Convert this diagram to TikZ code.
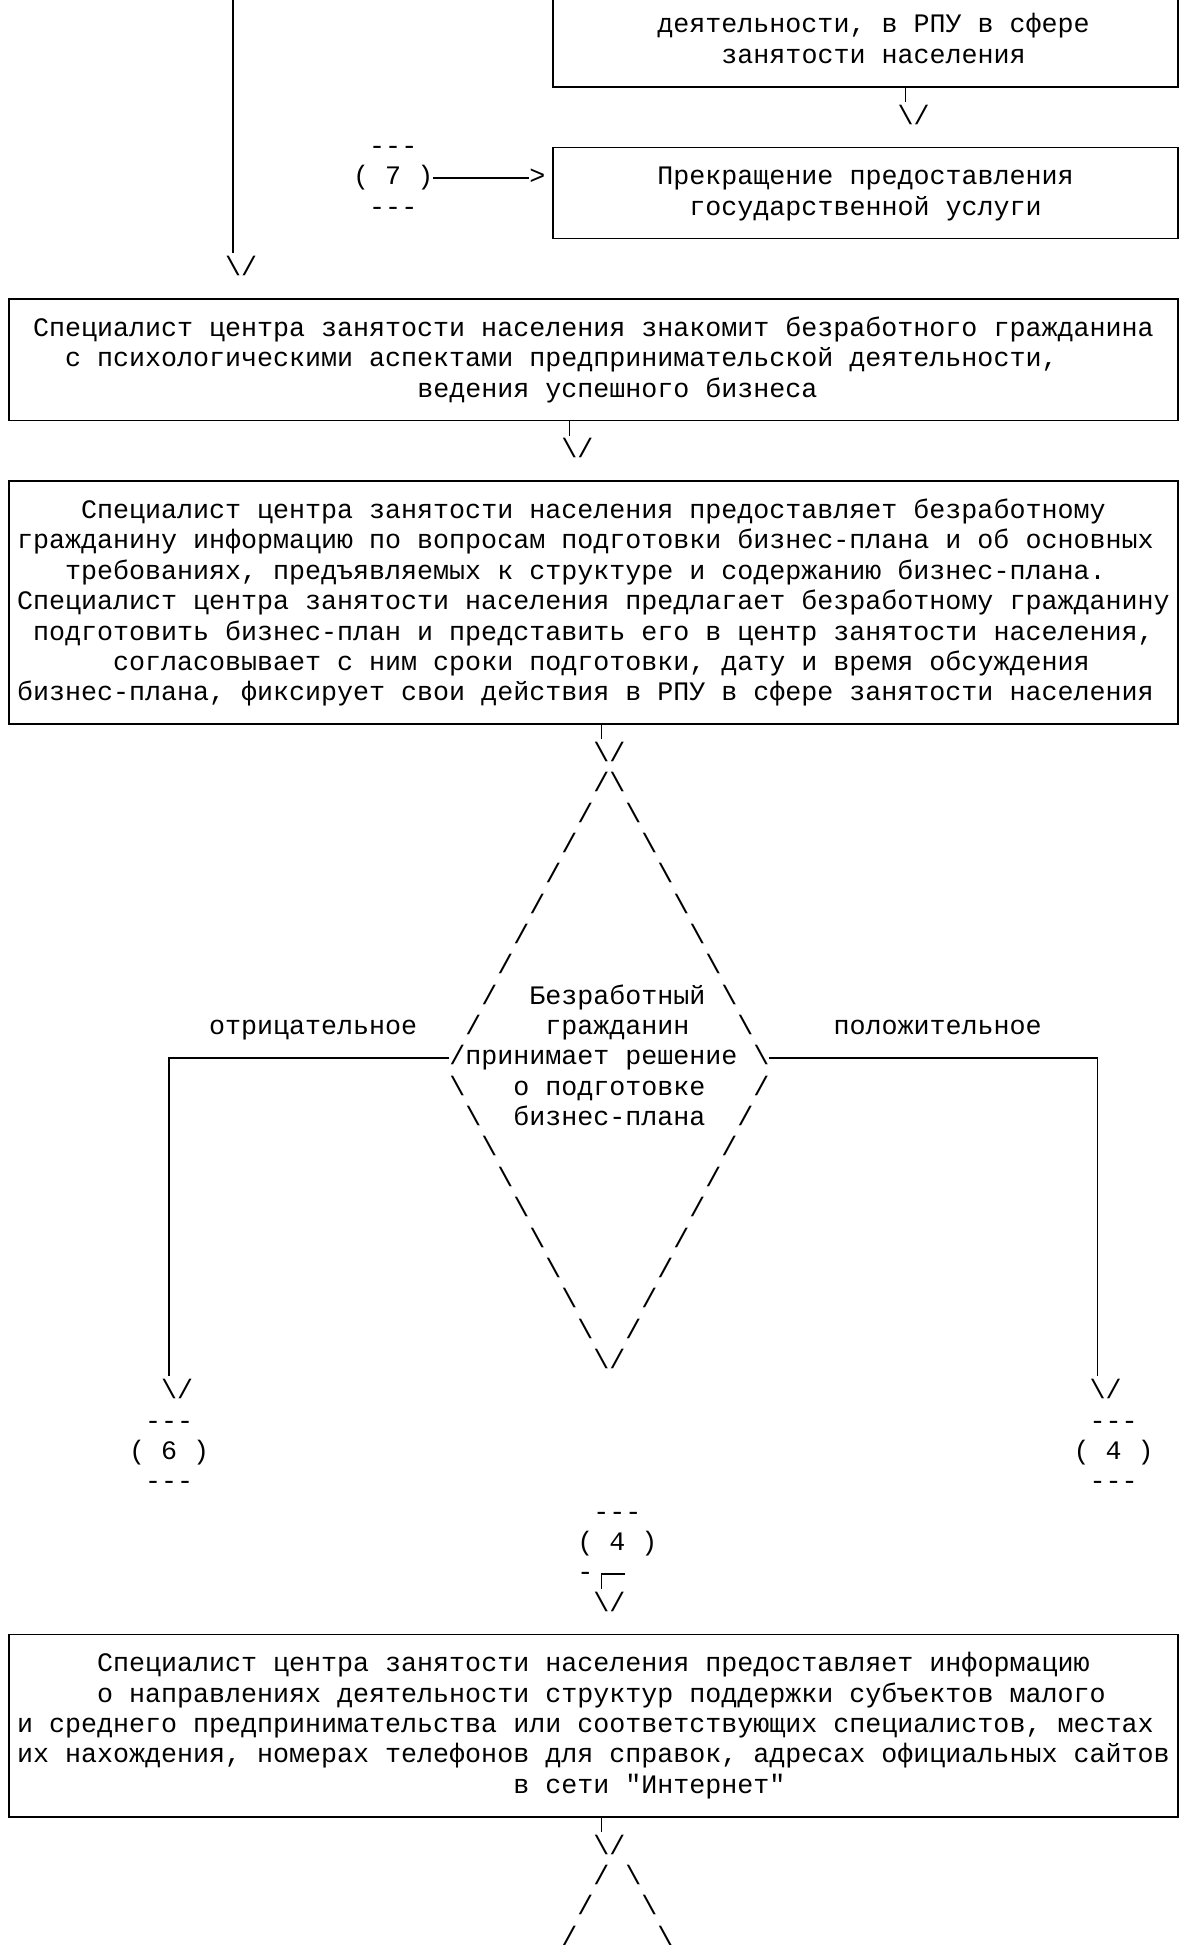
\documentclass[tikz,border=0pt]{standalone}
\usepackage{fontspec}
\setmonofont{Liberation Mono}
\usetikzlibrary{fit}
\begin{document}
\begin{tikzpicture}[x=1pt,y=-1pt,
  declare function={cx(\c)=9+16.01*\c; lx(\c)=1+16.01*\c; ry(\r)=26+30.35*\r; by(\r)=33+30.35*\r;},
  txt/.style={anchor=base west, inner sep=0pt, outer sep=0pt, font=\ttfamily\fontsize{26.68}{30}\selectfont},
  ln/.style={line width=1.6pt},
  boxn/.style={draw, line width=1.7pt, inner sep=0pt, outer sep=0pt}]
\useasboundingbox (0,0) rectangle (1179,1945);
\clip (0,0) rectangle (1179,1945);

% ---------- box corners ----------
\coordinate (A1) at ({cx(34)},-40);      \coordinate (A2) at ({cx(73)},{ry(2)});
\coordinate (B1) at ({cx(34)},{ry(4)});  \coordinate (B2) at ({cx(73)},{ry(7)});
\coordinate (C1) at ({cx(0)},{ry(9)});   \coordinate (C2) at ({cx(73)},{ry(13)});
\coordinate (D1) at ({cx(0)},{ry(15)});  \coordinate (D2) at ({cx(73)},{ry(23)});
\coordinate (E1) at ({cx(0)},{ry(53)});  \coordinate (E2) at ({cx(73)},{ry(59)});
\node[boxn, fit=(A1)(A2)] (boxA) {};
\node[boxn, fit=(B1)(B2)] (boxB) {};
\node[boxn, fit=(C1)(C2)] (boxC) {};
\node[boxn, fit=(D1)(D2)] (boxD) {};
\node[boxn, fit=(E1)(E2)] (boxE) {};

% ---------- top part ----------
\node[txt] (ta1) at ({lx(41)},{by(0)}) {деятельности, в РПУ в сфере};
\node[txt] (ta2) at ({lx(45)},{by(1)}) {занятости населения};
\coordinate (sA) at ({cx(56)},{ry(2)}); \coordinate (eA) at ({cx(56)},{ry(2)+15});
\draw[ln] (sA) -- (eA);
\node[txt] (vA) at ({lx(56)},{by(3)}) {\textbackslash/};

\node[txt] (c7t) at ({lx(23)},{by(4)}) {-{}-{}-};
\node[txt] (c7) at ({lx(22)},{by(5)}) {( 7 )};
\node[txt] (c7b) at ({lx(23)},{by(6)}) {-{}-{}-};
\coordinate (a7s) at ({lx(27)},{ry(5)}); \coordinate (a7e) at ({lx(33)},{ry(5)});
\draw[ln] (a7s) -- (a7e);
\node[txt] (gt7) at ({lx(33)},{by(5)}) {>};
\node[txt] (tb1) at ({lx(41)},{by(5)}) {Прекращение предоставления};
\node[txt] (tb2) at ({lx(43)},{by(6)}) {государственной услуги};

\coordinate (L0) at ({cx(14)},0); \coordinate (L1) at ({cx(14)},{ry(7)+15});
\draw[ln] (L0) -- (L1);
\node[txt] (vL) at ({lx(14)},{by(8)}) {\textbackslash/};

% ---------- box C ----------
\node[txt] (tc1) at ({lx(2)},{by(10)}) {Специалист центра занятости населения знакомит безработного гражданина};
\node[txt] (tc2) at ({lx(4)},{by(11)}) {с психологическими аспектами предпринимательской деятельности,};
\node[txt] (tc3) at ({lx(26)},{by(12)}) {ведения успешного бизнеса};
\coordinate (sC) at ({cx(35)},{ry(13)}); \coordinate (eC) at ({cx(35)},{ry(13)+15});
\draw[ln] (sC) -- (eC);
\node[txt] (vC) at ({lx(35)},{by(14)}) {\textbackslash/};

% ---------- box D ----------
\node[txt] (td1) at ({lx(5)},{by(16)}) {Специалист центра занятости населения предоставляет безработному};
\node[txt] (td2) at ({lx(1)},{by(17)}) {гражданину информацию по вопросам подготовки бизнес-плана и об основных};
\node[txt] (td3) at ({lx(4)},{by(18)}) {требованиях, предъявляемых к структуре и содержанию бизнес-плана.};
\node[txt] (td4) at ({lx(1)},{by(19)}) {Специалист центра занятости населения предлагает безработному гражданину};
\node[txt] (td5) at ({lx(2)},{by(20)}) {подготовить бизнес-план и представить его в центр занятости населения,};
\node[txt] (td6) at ({lx(7)},{by(21)}) {согласовывает с ним сроки подготовки, дату и время обсуждения};
\node[txt] (td7) at ({lx(1)},{by(22)}) {бизнес-плана, фиксирует свои действия в РПУ в сфере занятости населения};
\coordinate (sD) at ({cx(37)},{ry(23)}); \coordinate (eD) at ({cx(37)},{ry(23)+15});
\draw[ln] (sD) -- (eD);
\node[txt] (vD) at ({lx(37)},{by(24)}) {\textbackslash/};

% ---------- decision diamond ----------
\foreach \k in {0,...,9} {
  \node[txt] (dl\k) at ({lx(37-\k)},{by(25+\k)}) {/};
  \node[txt] (dr\k) at ({lx(38+\k)},{by(25+\k)}) {\textbackslash};
}
\foreach \m in {0,...,9} {
  \node[txt] (bl\m) at ({lx(28+\m)},{by(35+\m)}) {\textbackslash};
  \node[txt] (br\m) at ({lx(47-\m)},{by(35+\m)}) {/};
}
\node[txt] (q1) at ({lx(33)},{by(32)}) {Безработный};
\node[txt] (q2) at ({lx(34)},{by(33)}) {гражданин};
\node[txt] (q3) at ({lx(29)},{by(34)}) {принимает решение};
\node[txt] (q4) at ({lx(32)},{by(35)}) {о подготовке};
\node[txt] (q5) at ({lx(32)},{by(36)}) {бизнес-плана};
\node[txt] (neg) at ({lx(13)},{by(33)}) {отрицательное};
\node[txt] (pos) at ({lx(52)},{by(33)}) {положительное};

\coordinate (nl0) at ({lx(28)},{ry(34)}); \coordinate (nl1) at ({cx(10)},{ry(34)}); \coordinate (nl2) at ({cx(10)},{ry(44)+15});
\draw[ln] (nl0) -- (nl1) -- (nl2);
\coordinate (pr0) at ({lx(48)},{ry(34)}); \coordinate (pr1) at ({cx(68)},{ry(34)}); \coordinate (pr2) at ({cx(68)},{ry(44)+15});
\draw[ln] (pr0) -- (pr1) -- (pr2);

\node[txt] (vN) at ({lx(10)},{by(45)}) {\textbackslash/};
\node[txt] (vP) at ({lx(68)},{by(45)}) {\textbackslash/};
\node[txt] (c6t) at ({lx(9)},{by(46)}) {-{}-{}-};
\node[txt] (c6) at ({lx(8)},{by(47)}) {( 6 )};
\node[txt] (c6b) at ({lx(9)},{by(48)}) {-{}-{}-};
\node[txt] (c4t) at ({lx(68)},{by(46)}) {-{}-{}-};
\node[txt] (c4) at ({lx(67)},{by(47)}) {( 4 )};
\node[txt] (c4b) at ({lx(68)},{by(48)}) {-{}-{}-};

% ---------- connector 4 ----------
\node[txt] (k4t) at ({lx(37)},{by(49)}) {-{}-{}-};
\node[txt] (k4) at ({lx(36)},{by(50)}) {( 4 )};
\node[txt] (k4d) at ({lx(36)},{by(51)}) {-};
\coordinate (k0) at ({lx(39)},{ry(51)}); \coordinate (k1) at ({cx(37)},{ry(51)}); \coordinate (k2) at ({cx(37)},{ry(51)+15});
\draw[ln] (k0) -- (k1) -- (k2);
\node[txt] (vK) at ({lx(37)},{by(52)}) {\textbackslash/};

% ---------- box E ----------
\node[txt] (te1) at ({lx(6)},{by(54)}) {Специалист центра занятости населения предоставляет информацию};
\node[txt] (te2) at ({lx(6)},{by(55)}) {о направлениях деятельности структур поддержки субъектов малого};
\node[txt] (te3) at ({lx(1)},{by(56)}) {и среднего предпринимательства или соответствующих специалистов, местах};
\node[txt] (te4) at ({lx(1)},{by(57)}) {их нахождения, номерах телефонов для справок, адресах официальных сайтов};
\node[txt] (te5) at ({lx(32)},{by(58)}) {в сети "Интернет"};
\coordinate (sE) at ({cx(37)},{ry(59)}); \coordinate (eE) at ({cx(37)},{ry(59)+15});
\draw[ln] (sE) -- (eE);
\node[txt] (vE) at ({lx(37)},{by(60)}) {\textbackslash/};

% ---------- second diamond (top) ----------
\foreach \k in {0,1,2} {
  \node[txt] (fl\k) at ({lx(37-\k)},{by(61+\k)}) {/};
  \node[txt] (fr\k) at ({lx(39+\k)},{by(61+\k)}) {\textbackslash};
}
\end{tikzpicture}
\end{document}
